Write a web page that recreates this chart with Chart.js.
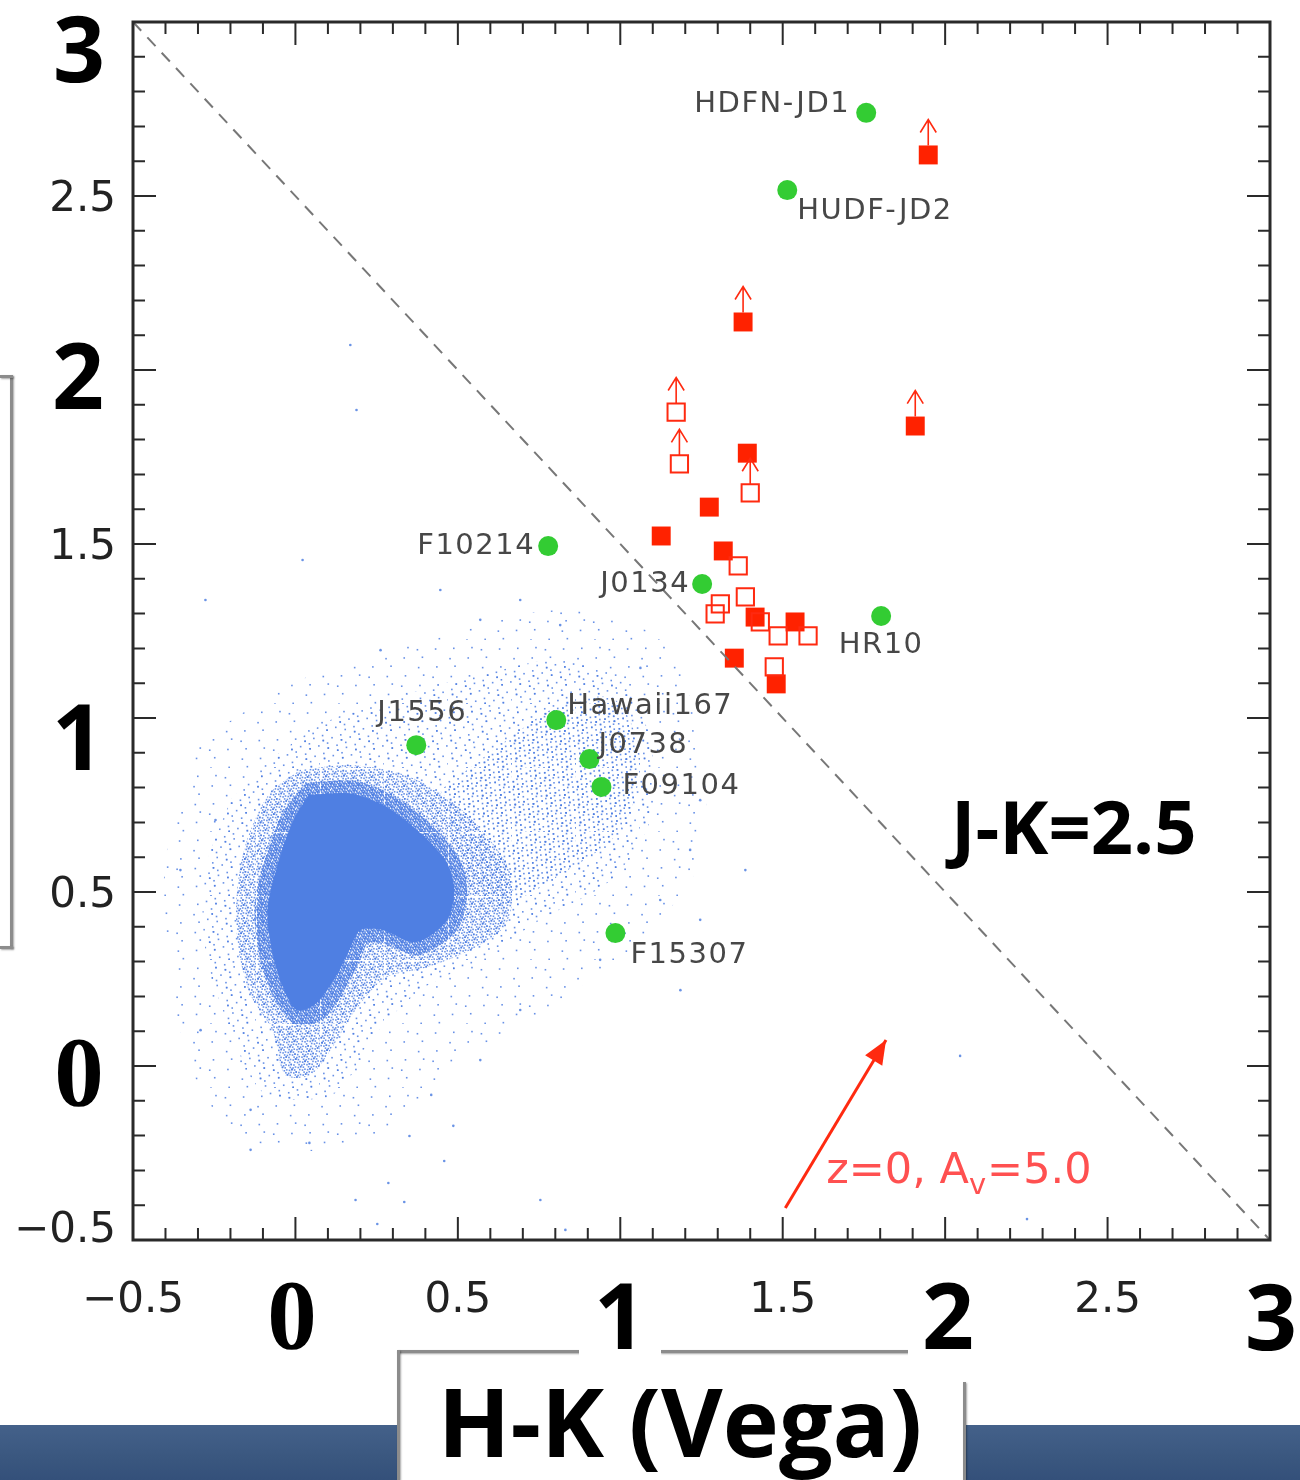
<!DOCTYPE html>
<html>
<head>
<meta charset="utf-8">
<script src="https://cdn.jsdelivr.net/npm/chart.js@4.4.1/dist/chart.umd.min.js"></script>
<style>
html, body { margin: 0; padding: 0; background: #fff; }
#pagina { position: relative; width: 1300px; height: 1480px; overflow: hidden; background: #fff; }
#grafico { position: absolute; left: 0; top: 0; }
.faixa { position: absolute; left: 0; top: 1425px; width: 1300px; height: 55px;
  background: linear-gradient(180deg, #44618a 0%, #3a577f 60%, #34507a 100%); }
.caixa { position: absolute; background: #fff; }
.linha { position: absolute; background: #8c8c8c; box-shadow: 1px 1px 2px rgba(0,0,0,.35); }
.big { position: absolute; display: flex; align-items: center; justify-content: center;
  background: #fff; color: #000; font-family: 'Open Sans', sans-serif; font-weight: 700;
  font-size: 91px; line-height: 1; }
.serif { font-family: 'Liberation Serif', serif; font-size: 99px; }
</style>
</head>
<body>
<div id="pagina">
  <canvas id="grafico" width="1300" height="1480"></canvas>

  <!-- caixa da esquerda (rótulo cortado) -->
  <div class="linha" style="left:10px;top:375px;width:3px;height:573px"></div>
  <div class="linha" style="left:0;top:375px;width:13px;height:3px"></div>
  <div class="linha" style="left:0;top:946px;width:13px;height:3px"></div>

  <!-- faixa azul e caixa do título -->
  <div class="faixa"></div>
  <div class="caixa" style="left:397px;top:1352px;width:568px;height:128px"></div>
  <div class="linha" style="left:397px;top:1350px;width:183px;height:3px"></div>
  <div class="linha" style="left:660px;top:1350px;width:248px;height:3px"></div>
  <div class="linha" style="left:397px;top:1350px;width:3px;height:130px"></div>
  <div class="linha" style="left:963px;top:1382px;width:3px;height:98px"></div>

  <!-- números grandes -->
  <div class="big" style="left:40px;top:2px;width:78px;height:90px">3</div>
  <div class="big" style="left:38px;top:329px;width:80px;height:90px">2</div>
  <div class="big" style="left:38px;top:690px;width:80px;height:90px">1</div>
  <div class="big serif" style="left:39px;top:1026px;width:80px;height:90px">0</div>
  <div class="big serif" style="left:252px;top:1269px;width:80px;height:90px">0</div>
  <div class="big" style="left:579px;top:1269px;width:82px;height:90px">1</div>
  <div class="big" style="left:908px;top:1269px;width:80px;height:90px">2</div>
  <div class="big" style="left:1231px;top:1270px;width:80px;height:90px">3</div>

  <div class="big" style="left:951px;top:786px;width:260px;height:80px;font-size:74px;justify-content:flex-start;background:transparent">J-K=2.5</div>
  <div class="big" style="left:425px;top:1373px;width:510px;height:95px;font-size:95px;background:transparent">H-K (Vega)</div>
</div>

<script>
// Eixos
const faixaX = [-0.5, 3.0];
const faixaY = [-0.5, 3.0];
const xTickVals = [-0.5, 0.5, 1.5, 2.5];
const xTickText = ['−0.5', '0.5', '1.5', '2.5'];
const yTickVals = [2.5, 1.5, 0.5, -0.5];
const yTickText = ['2.5', '1.5', '0.5', '−0.5'];

// Nuvem azul (contornos, do núcleo para fora)
const coreX = [0.040, 0.175, 0.286, 0.391, 0.465, 0.489, 0.465, 0.369, 0.268, 0.200, 0.169, 0.126, 0.062, 0.003, -0.037, -0.071, -0.086, -0.055, -0.006];
const coreY = [0.779, 0.782, 0.741, 0.664, 0.586, 0.506, 0.417, 0.356, 0.391, 0.391, 0.339, 0.259, 0.178, 0.161, 0.224, 0.325, 0.448, 0.578, 0.707];
const innerX = [0.031, 0.185, 0.308, 0.422, 0.502, 0.529, 0.498, 0.378, 0.271, 0.222, 0.200, 0.154, 0.083, -0.003, -0.071, -0.111, -0.126, -0.095, -0.037];
const innerY = [0.813, 0.819, 0.773, 0.690, 0.601, 0.506, 0.391, 0.319, 0.351, 0.351, 0.305, 0.224, 0.132, 0.121, 0.204, 0.319, 0.454, 0.592, 0.730];
const haloX = [0.015, 0.169, 0.338, 0.477, 0.600, 0.668, 0.646, 0.538, 0.400, 0.277, 0.185, 0.108, 0.046, -0.031, -0.071, -0.138, -0.175, -0.182, -0.154, -0.083];
const haloY = [0.851, 0.865, 0.836, 0.764, 0.649, 0.534, 0.405, 0.333, 0.282, 0.253, 0.161, 0.046, -0.026, -0.026, 0.103, 0.204, 0.333, 0.477, 0.635, 0.779];
const tailX = [0.446, 0.631, 0.815, 0.985, 1.062, 1.000, 0.815, 0.631, 0.538];
const tailY = [0.793, 0.922, 1.037, 1.052, 0.879, 0.678, 0.549, 0.463, 0.534];
const plumeX = [-0.2, -0.077, 0.108, 0.385, 0.631, 0.815, 1.0, 1.092, 1.092, 0.969, 0.754, 0.569, 0.385, 0.231, 0.138, 0.015, -0.108, -0.2, -0.277, -0.277];
const plumeY = [0.764, 0.879, 0.994, 1.080, 1.138, 1.167, 1.109, 0.937, 0.707, 0.534, 0.420, 0.305, 0.218, 0.075, -0.069, -0.098, -0.069, 0.103, 0.333, 0.563];
const outerX = [-0.292, 0.015, 0.415, 0.815, 1.123, 1.246, 1.246, 1.062, 0.815, 0.508, 0.323, 0.108, -0.138, -0.292, -0.385, -0.4];
const outerY = [0.937, 1.109, 1.224, 1.310, 1.224, 0.937, 0.592, 0.362, 0.190, 0.017, -0.155, -0.241, -0.213, -0.069, 0.247, 0.592];
const dotX = [0.169, 0.188, 0.022, -0.277, 0.446, 0.692, 0.815, 1.062, 1.246, 1.385, 1.246, 1.185, 2.046, 2.252, 1.840, 0.831, 0.754, 0.185, 0.043, 0.252, 0.286, 0.335, 0.351, 0.418, 0.458, 0.486, -0.138, -0.292, -0.354, -0.246, -0.138, 0.569, 0.692, 0.938, 1.123, 1.215, 0.569, 0.262];
const dotY = [2.072, 1.885, 1.454, 1.339, 1.368, 1.339, 1.267, 1.144, 0.764, 0.563, 0.420, 0.218, 0.029, -0.440, -0.322, -0.471, -0.385, -0.385, -0.221, -0.454, -0.336, -0.391, -0.201, -0.083, -0.273, -0.172, -0.126, 0.103, 0.563, 0.707, -0.241, 0.017, 0.161, 0.305, 0.477, 0.621, 1.282, 1.195];

// Objetos nomeados (círculos verdes)
const greenNames = ['HDFN-JD1', 'HUDF-JD2', 'F10214', 'J0134', 'HR10', 'J1556', 'Hawaii167', 'J0738', 'F09104', 'F15307'];
const greenX = [1.757, 1.514, 0.778, 1.252, 1.803, 0.372, 0.803, 0.905, 0.942, 0.985];
const greenY = [2.739, 2.517, 1.494, 1.385, 1.293, 0.922, 0.994, 0.882, 0.802, 0.382];

// Quadrados vermelhos (1 = limite inferior, com seta)
const redFilledX = [1.948, 1.378, 1.908, 1.391, 1.274, 1.126, 1.317, 1.415, 1.538, 1.351, 1.480];
const redFilledY = [2.618, 2.138, 1.839, 1.761, 1.606, 1.523, 1.480, 1.290, 1.276, 1.172, 1.098];
const redFilledLim = [1, 1, 1, 0, 0, 0, 0, 0, 0, 0, 0];
const redOpenX = [1.172, 1.182, 1.400, 1.363, 1.308, 1.292, 1.385, 1.431, 1.486, 1.578, 1.474];
const redOpenY = [1.879, 1.730, 1.647, 1.437, 1.328, 1.299, 1.348, 1.276, 1.236, 1.236, 1.147];
const redOpenLim = [1, 1, 1, 0, 0, 0, 0, 0, 0, 0, 0];

// Linha J-K=2.5 e vetor de avermelhamento
const jkX = [-0.5, 3.0];
const jkY = [3.0, -0.5];
const avX = [1.508, 1.818];
const avY = [-0.408, 0.075];
const avTextAt = [1.634, -0.305];

// posição dos nomes: [dx, dy, alinhamento]
const labelPos = [[-16, -8, 'right'], [10, 21, 'left'], [-13, 0, 'right'], [-12, 0, 'right'], [0, 29, 'center'],
  [6, -32, 'center'], [11, -14, 'left'], [9, -14, 'left'], [21, 0, 'left'], [15, 22, 'left']];

const pts = (xs, ys) => xs.map((v, i) => ({ x: v, y: ys[i] }));
const fechado = (xs, ys) => { const p = pts(xs, ys); p.push(p[0]); return p; };

const ctx = document.getElementById('grafico').getContext('2d');

// textura pontilhada (sequência de baixa discrepância, só para o preenchimento)
function pontilhado(n, color) {
  const t = 64;
  const c = document.createElement('canvas');
  c.width = t; c.height = t;
  const g = c.getContext('2d');
  g.fillStyle = color;
  for (let i = 1; i <= n; i++) {
    const px = ((i * 0.7548776662) % 1) * t;
    const py = ((i * 0.5698402910) % 1) * t;
    g.fillRect(px, py, 1.6, 1.6);
  }
  return ctx.createPattern(c, 'repeat');
}
const azul = 'rgba(78,126,226,0.85)';
const padraoInterno = pontilhado(1400, azul);
const padraoDenso = pontilhado(520, azul);
const padraoMedio = pontilhado(190, azul);
const padraoRalo = pontilhado(80, azul);
const padraoFora = pontilhado(24, azul);

const poligono = (data, bg, order) => ({
  type: 'line', data, showLine: true, fill: 'shape', backgroundColor: bg,
  borderColor: 'rgba(0,0,0,0)', borderWidth: 0, pointRadius: 0, tension: 0.3, order
});

const desenho = {
  id: 'desenho',
  afterDatasetsDraw(chart) {
    const { ctx, chartArea: a, scales: { x, y } } = chart;
    ctx.save();

    // setas de limite
    ctx.strokeStyle = '#ff2a10';
    ctx.lineWidth = 1.6;
    [[redOpenIdx, redOpenLim, 12.2], [redFilledIdx, redFilledLim, 13.4]].forEach(([di, lim, r]) => {
      chart.getDatasetMeta(di).data.forEach((p, i) => {
        if (!lim[i]) return;
        const topo = p.y - r * Math.SQRT1_2;
        const ponta = topo - 26;
        ctx.beginPath();
        ctx.moveTo(p.x, topo); ctx.lineTo(p.x, ponta);
        ctx.moveTo(p.x - 8, ponta + 13); ctx.lineTo(p.x, ponta); ctx.lineTo(p.x + 8, ponta + 13);
        ctx.stroke();
      });
    });

    // ponta do vetor de avermelhamento
    const v = chart.getDatasetMeta(vetorIdx).data;
    const ang = Math.atan2(v[1].y - v[0].y, v[1].x - v[0].x);
    ctx.fillStyle = '#ff2a10';
    ctx.beginPath();
    ctx.moveTo(v[1].x, v[1].y);
    ctx.lineTo(v[1].x - 24 * Math.cos(ang) + 10 * Math.sin(ang), v[1].y - 24 * Math.sin(ang) - 10 * Math.cos(ang));
    ctx.lineTo(v[1].x - 24 * Math.cos(ang) - 10 * Math.sin(ang), v[1].y - 24 * Math.sin(ang) + 10 * Math.cos(ang));
    ctx.closePath();
    ctx.fill();

    // texto z=0, Av=5.0
    let tx = x.getPixelForValue(avTextAt[0]);
    const ty = y.getPixelForValue(avTextAt[1]);
    ctx.fillStyle = '#ff5050';
    ctx.textBaseline = 'middle';
    ctx.textAlign = 'left';
    ctx.font = '43px "DejaVu Sans"';
    ctx.fillText('z=0, A', tx, ty);
    tx += ctx.measureText('z=0, A').width;
    ctx.font = '29px "DejaVu Sans"';
    ctx.fillText('v', tx, ty + 14);
    tx += ctx.measureText('v').width + 1;
    ctx.font = '43px "DejaVu Sans"';
    ctx.fillText('=5.0', tx, ty);

    // nomes dos objetos
    ctx.fillStyle = '#474747';
    ctx.font = '29px "DejaVu Sans"';
    ctx.letterSpacing = '1.5px';
    chart.getDatasetMeta(greenIdx).data.forEach((p, i) => {
      const [dx, dy, al] = labelPos[i];
      ctx.textAlign = al;
      ctx.fillText(greenNames[i], p.x + dx, p.y + dy);
    });
    ctx.letterSpacing = '0px';

    // moldura e marcas para dentro
    ctx.strokeStyle = '#2a2a2a';
    ctx.lineWidth = 2;
    for (let i = -5; i <= 30; i++) {
      const val = i / 10;
      const len = i % 5 === 0 ? 23 : 12;
      const px = x.getPixelForValue(val), py = y.getPixelForValue(val);
      ctx.beginPath();
      ctx.moveTo(px, a.bottom); ctx.lineTo(px, a.bottom - len);
      ctx.moveTo(px, a.top); ctx.lineTo(px, a.top + len);
      ctx.moveTo(a.left, py); ctx.lineTo(a.left + len, py);
      ctx.moveTo(a.right, py); ctx.lineTo(a.right - len, py);
      ctx.stroke();
    }
    ctx.lineWidth = 3;
    ctx.strokeRect(a.left, a.top, a.right - a.left, a.bottom - a.top);

    // rótulos dos eixos
    ctx.fillStyle = '#222';
    ctx.font = '42px "DejaVu Sans"';
    ctx.textBaseline = 'middle';
    ctx.textAlign = 'center';
    xTickVals.forEach((val, i) => ctx.fillText(xTickText[i], x.getPixelForValue(val), a.bottom + 61));
    ctx.textAlign = 'right';
    yTickVals.forEach((val, i) => ctx.fillText(yTickText[i], a.left - 17, y.getPixelForValue(val) + (val < 0 ? -9 : 4)));
    ctx.restore();
  }
};

const datasets = [
  poligono(fechado(outerX, outerY), padraoFora, 14),
  poligono(fechado(plumeX, plumeY), padraoRalo, 13),
  poligono(fechado(tailX, tailY), padraoMedio, 12),
  poligono(fechado(haloX, haloY), padraoDenso, 11),
  poligono(fechado(innerX, innerY), padraoInterno, 10),
  poligono(fechado(coreX, coreY), '#4f7fe2', 9),
  { data: pts(dotX, dotY), pointRadius: 1.3, backgroundColor: 'rgba(80,128,224,0.85)', borderWidth: 0, order: 8 },
  {
    type: 'line', data: pts(avX, avY), showLine: true, borderColor: '#ff2a10', borderWidth: 3,
    pointRadius: 0, fill: false, order: 5
  },
  { data: pts(greenX, greenY), pointStyle: 'circle', pointRadius: 10, backgroundColor: '#33cc33', borderWidth: 0, order: 4 },
  { data: pts(redFilledX, redFilledY), pointStyle: 'rect', pointRadius: 13.4, backgroundColor: '#ff2200', borderWidth: 0, order: 3 },
  {
    data: pts(redOpenX, redOpenY), pointStyle: 'rect', pointRadius: 12.2, backgroundColor: 'rgba(0,0,0,0)',
    borderColor: '#ff2a10', borderWidth: 2, order: 2
  },
  {
    type: 'line', data: pts(jkX, jkY), showLine: true, borderColor: '#777', borderWidth: 2,
    borderDash: [12, 9], pointRadius: 0, fill: false, order: 1
  }
];
const vetorIdx = 7, greenIdx = 8, redFilledIdx = 9, redOpenIdx = 10;

new Chart(ctx, {
  type: 'scatter',
  data: { datasets },
  options: {
    responsive: false,
    devicePixelRatio: 1,
    animation: false,
    events: [],
    layout: { padding: { left: 133, top: 22, right: 30, bottom: 240 } },
    plugins: {
      legend: { display: false },
      tooltip: { enabled: false }
    },
    scales: {
      x: { type: 'linear', min: faixaX[0], max: faixaX[1], display: false },
      y: { type: 'linear', min: faixaY[0], max: faixaY[1], display: false }
    }
  },
  plugins: [desenho]
});
</script>
</body>
</html>
